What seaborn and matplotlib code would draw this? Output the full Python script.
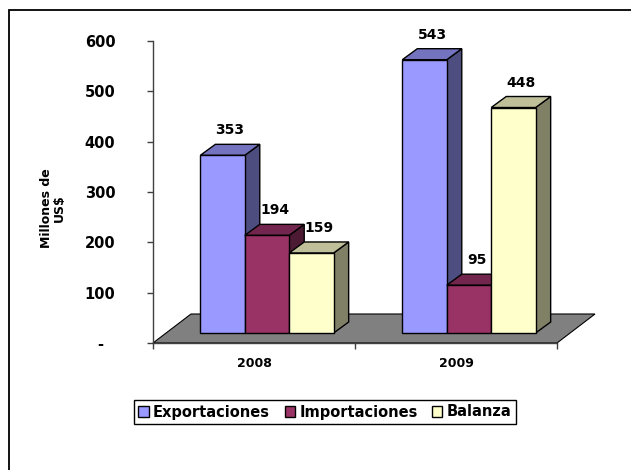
import pandas as pd
import matplotlib
matplotlib.use('Agg')
import matplotlib.pyplot as plt
from matplotlib.patches import Polygon, Patch, Rectangle
from matplotlib.transforms import offset_copy
import seaborn as sns

# Datos del grafico
anios = ['2008', '2009']
series = ['Exportaciones', 'Importaciones', 'Balanza']
exportaciones = [353, 543]
importaciones = [194, 95]
balanza = [159, 448]
yticks = [0, 100, 200, 300, 400, 500, 600]
ytick_labels = ['-', '100', '200', '300', '400', '500', '600']

colores_frente = ['#9999FF', '#993366', '#FFFFCC']
colores_lado = ['#4D4D80', '#4D1A33', '#808066']
colores_tapa = ['#7373BF', '#73264D', '#BFBF99']

sns.set_style('ticks')
plt.rcParams['font.family'] = ['DejaVu Sans']
plt.rcParams['text.color'] = 'black'
plt.rcParams['xtick.color'] = '#404040'
plt.rcParams['ytick.color'] = '#404040'
plt.rcParams['xtick.labelcolor'] = 'black'
plt.rcParams['ytick.labelcolor'] = 'black'

W, H = 631, 470
fig = plt.figure(figsize=(W / 100, H / 100), dpi=100)
ax = fig.add_axes([153 / W, 127 / H, 404 / W, 302 / H])

df = pd.DataFrame({
    'Año': anios * 3,
    'Serie': [s for s in series for _ in anios],
    'Valor': exportaciones + importaciones + balanza,
})

sns.barplot(data=df, x='Año', y='Valor', hue='Serie', hue_order=series,
            palette=colores_frente, width=0.66, gap=0, saturation=1,
            edgecolor='black', linewidth=1, errorbar=None, legend=False, ax=ax)
ax.set_ylim(0, 600)
ax.set_xlim(-0.5, 1.5)

barras = list(ax.patches)

# tamano de un pixel en unidades de datos
px_x = 2.0 / 404
px_y = 600 / 302

# efecto 3D: desplazamiento del frente y profundidad de la barra (pixeles)
fx, fy = 13, 10
dx, dy = 15 * px_x, 11 * px_y
desplazado = offset_copy(ax.transData, fig=fig, x=fx, y=fy, units='dots')

orden = sorted(range(len(barras)), key=lambda i: barras[i].get_x())
for rank, i in enumerate(orden):
    b = barras[i]
    k = i // len(anios)
    x0, w, h = b.get_x(), b.get_width(), b.get_height()
    b.set_transform(desplazado)
    b.set_clip_on(False)
    b.set_zorder(3 + rank)

    xf0 = x0 + fx * px_x
    xf1 = xf0 + w
    yf0 = fy * px_y
    yf1 = h + fy * px_y
    tapa = [(xf0, yf1), (xf1, yf1), (xf1 + dx, yf1 + dy), (xf0 + dx, yf1 + dy)]
    lado = [(xf1, yf0), (xf1, yf1), (xf1 + dx, yf1 + dy), (xf1 + dx, yf0 + dy)]
    ax.add_patch(Polygon(lado, closed=True, fc=colores_lado[k], ec='black',
                         lw=1, zorder=2.9 + rank, clip_on=False))
    ax.add_patch(Polygon(tapa, closed=True, fc=colores_tapa[k], ec='black',
                         lw=1, zorder=2.9 + rank, clip_on=False))
    ax.annotate(f'{int(round(h))}', xy=((xf0 + xf1) / 2 + dx / 2, yf1 + dy),
                xytext=(0, 5), textcoords='offset points', ha='center',
                va='bottom', fontsize=10, fontweight='bold', color='black',
                annotation_clip=False)

# piso gris
piso = [(-0.5, 0), (1.5, 0), (1.5 + 38 * px_x, 29 * px_y), (-0.5 + 38 * px_x, 29 * px_y)]
ax.add_patch(Polygon(piso, closed=True, fc='#808080', ec='black', lw=0.8,
                     zorder=1, clip_on=False))

# ejes
sns.despine(ax=ax)
for s in ['left', 'bottom']:
    ax.spines[s].set_color('#404040')
    ax.spines[s].set_linewidth(1)

ax.set_yticks(yticks, ytick_labels)
ax.tick_params(axis='y', left=True, length=4.3, width=1, direction='out',
               pad=33.8, labelsize=10.5)
for lab in ax.get_yticklabels():
    lab.set_fontweight('bold')
    lab.set_ha('center')

ax.set_xticks([-0.5, 0.5, 1.5], minor=True)
ax.tick_params(axis='x', which='major', length=0, pad=10, labelsize=9)
ax.tick_params(axis='x', which='minor', bottom=True, length=4.3, width=1,
               direction='out')
for lab in ax.get_xticklabels():
    lab.set_fontweight('bold')

ax.set_xlabel('')
ax.set_ylabel('Millones de\nUS$', fontsize=9, fontweight='bold', va='center',
              linespacing=1.0, color='black')
ax.yaxis.set_label_coords(-0.2475, 0.447)

# leyenda
handles = [Patch(fc=c, ec='black', lw=1) for c in colores_frente]
leg = fig.legend(handles, series, loc='center', bbox_to_anchor=(325 / W, 1 - 412 / H),
                 ncol=3, fancybox=False, edgecolor='black', framealpha=1,
                 prop=dict(weight='bold', size=10.5), handlelength=0.7,
                 handleheight=0.7, handletextpad=0.3, columnspacing=1.0,
                 borderpad=0.3)
leg.get_frame().set_linewidth(1)

# marco exterior
fig.add_artist(Rectangle((9 / W, -0.1), 1.2, (H - 10) / H + 0.1,
                         transform=fig.transFigure, fill=False,
                         ec='black', lw=1.3))

fig.savefig('out.png', dpi=100)
